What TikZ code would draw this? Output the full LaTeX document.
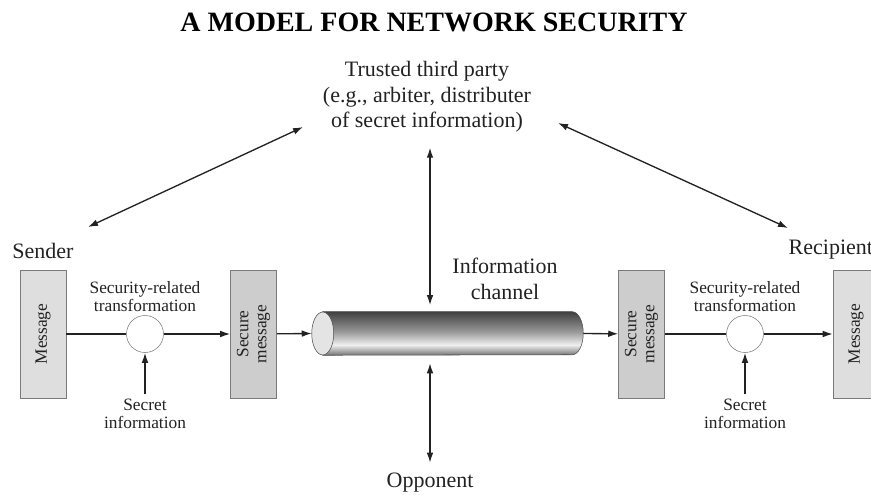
\documentclass[tikz,border=0pt]{standalone}
\usepackage{fontspec}
\setmainfont{Liberation Serif}
\usepackage{tikz}
\usetikzlibrary{arrows.meta}

\definecolor{boxlight}{HTML}{DEDEDE}
\definecolor{boxdark}{HTML}{CDCDCD}
\definecolor{boxline}{HTML}{7A7A7A}
\definecolor{inkgray}{HTML}{222222}
\definecolor{capface}{HTML}{E4E4E4}

\pgfdeclareverticalshading{tube}{100bp}{color(0bp)=(black!55); color(25bp)=(black!55);
  color(37bp)=(black!6); color(52bp)=(black!40); color(75bp)=(black!75); color(100bp)=(black!75)}

\tikzset{
  bigtext/.style={font=\fontsize{16.5}{19}\selectfont, align=center, text=inkgray},
  smalltext/.style={font=\fontsize{13}{13.5}\selectfont, align=center, text=inkgray},
  msgbox/.style={draw=boxline, fill=boxlight, minimum width=34.5pt, minimum height=96pt, inner sep=0pt},
  securebox/.style={msgbox, fill=boxdark},
  xform/.style={circle, draw=boxline, fill=white, minimum size=27.75pt, inner sep=0pt}
}

\begin{document}
\begin{tikzpicture}[x=0.75pt, y=-0.75pt]
	\clip (0,0) rectangle (871,494);
	\node [font=\fontsize{21}{25}\selectfont\bfseries] (title) at (434,22) {A MODEL FOR NETWORK SECURITY};
	\begin{scope}[every node/.style={bigtext}]
		\node (ttp) at (427,97) {Trusted third party\\(e.g., arbiter, distributer\\of secret information)};
		\node (sender) at (43,251) {Sender};
		\node [anchor=west] (recip) at (784,250) {Recipient};
		\node (chan) at (505,279) {Information\\channel};
		\node (opp) at (430,483) {Opponent};
	\end{scope}
	\begin{scope}[every label/.append style={smalltext}]
		\node [msgbox, label={[rotate=90]center:Message}] (msgL) at (43,334) {};
		\node [xform, label={[label distance=-1pt]above:Security-related\\transformation}] (cL) at (145,334) {};
		\node [securebox, label={[rotate=90]center:Secure\\message}] (secL) at (253.5,334) {};
		\node [securebox, label={[rotate=90]center:Secure\\message}] (secR) at (641.5,334) {};
		\node [xform, label={[label distance=-1pt]above:Security-related\\transformation}] (cR) at (745,334) {};
		\node [msgbox, label={[rotate=90]center:Message}] (msgR) at (856,334) {};
		\node [smalltext] (keyL) at (145,414) {Secret\\information};
		\node [smalltext] (keyR) at (745,414) {Secret\\information};
	\end{scope}
	% the information channel
	\node [minimum width=203.25pt, minimum height=32.25pt, inner sep=0pt] (pipe) at (447.5,333.5) {};
	\shade [shading=tube, draw=black!70] ([xshift=8.25pt]pipe.north west) -- ([xshift=-8.25pt]pipe.north east)
		arc [start angle=90, end angle=-90, x radius=8.25pt, y radius=16.125pt] -- ([xshift=8.25pt]pipe.south west) -- cycle;
	\draw [draw=black!70, fill=capface] ([xshift=8.25pt]pipe.west) ellipse [x radius=8.25pt, y radius=16.125pt];
	\coordinate (sndTip) at (88,227);
	\coordinate (ttpL) at (303,127);
	\coordinate (ttpR) at (558,123);
	\coordinate (rcpTip) at (788,228);
	\begin{scope}[>={Latex[length=7.5pt, width=5pt]},
			every edge/.style={draw=inkgray, line width=1pt}]
		\path (msgL) edge (cL);
		\path [->] (cL) edge (secL);
		\path [->] (secL) edge (pipe.west);
		\path [->] (pipe.east) edge (secR);
		\path (secR) edge (cR);
		\path [->] (cR) edge (msgR);
		\path [->] (keyL) edge (cL);
		\path [->] (keyR) edge (cR);
		\path [<->] (sndTip) edge (ttpL);
		\path [<->] (ttpR) edge (rcpTip);
		\path [<->, shorten <=8pt, shorten >=5pt] (ttp.south -| opp) edge (pipe.north -| opp);
		\path [<->, shorten <=6pt, shorten >=4.5pt] (pipe.south -| opp) edge (opp.north);
	\end{scope}
\end{tikzpicture}
\end{document}
